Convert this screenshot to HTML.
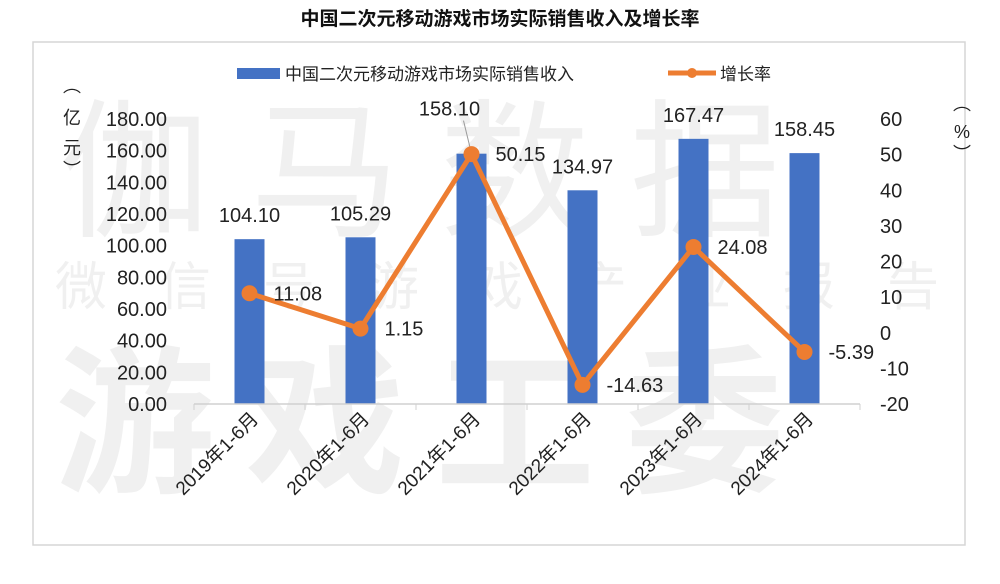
<!DOCTYPE html>
<html><head><meta charset="utf-8"><style>
body{margin:0;background:#fff;}
svg text{font-family:"Liberation Sans","Noto Sans CJK SC",sans-serif;}
</style></head><body>
<svg id="c" width="1000" height="579" viewBox="0 0 1000 579" xmlns="http://www.w3.org/2000/svg">
<rect x="0" y="0" width="1000" height="579" fill="#fff"/>
<text x="500" y="25" text-anchor="middle" font-size="19" font-weight="bold" fill="#111">中国二次元移动游戏市场实际销售收入及增长率</text>
<rect x="33" y="42" width="932" height="503" fill="none" stroke="#d6d6d6" stroke-width="1.5"/>
<g fill="#000" opacity="0.055">
<text x="60" y="225" font-size="150" letter-spacing="40">伽马数据</text>
<text x="55" y="305" font-size="52" letter-spacing="52">微信号游戏产业报告</text>
<text x="55" y="480" font-size="160" font-weight="bold" letter-spacing="30">游戏工委</text>
</g>
<g>
<rect x="237" y="68" width="43" height="11" fill="#4472C4"/>
<text x="285" y="80" font-size="17" fill="#222">中国二次元移动游戏市场实际销售收入</text>
<line x1="668" y1="73" x2="716" y2="73" stroke="#ED7D31" stroke-width="5"/>
<circle cx="692" cy="73" r="5" fill="#ED7D31"/>
<text x="720" y="80" font-size="17" fill="#222">增长率</text>
</g>
<g font-size="18" fill="#222" text-anchor="middle">
<text x="72" y="92">︵</text><text x="72" y="124">亿</text><text x="72" y="154">元</text><text x="72" y="176">︶</text>
</g>
<g font-size="18" fill="#222" text-anchor="middle">
<text x="962" y="110">︵</text><text x="962" y="138">%</text><text x="962" y="160">︶</text>
</g>
<g id="g"></g>
</svg>
<script>
const categories=["2019年1-6月","2020年1-6月","2021年1-6月","2022年1-6月","2023年1-6月","2024年1-6月"];
const revenue=[104.10,105.29,158.10,134.97,167.47,158.45];
const growth=[11.08,1.15,50.15,-14.63,24.08,-5.39];
const leftTicks=[0,20,40,60,80,100,120,140,160,180];
const rightTicks=[-20,-10,0,10,20,30,40,50,60];
const NS="http://www.w3.org/2000/svg";
const g=document.getElementById('g');
const X0=194,SLOT=111,YB=404,YT=119;
function xc(i){return X0+SLOT*(i+0.5);}
function yL(v){return YB-(v-0)/(180-0)*(YB-YT);}
function yR(v){return YB-(v+20)/(60+20)*(YB-YT);}
function mk(tag,attrs,txt){const e=document.createElementNS(NS,tag);for(const k in attrs)e.setAttribute(k,attrs[k]);if(txt!=null)e.textContent=txt;g.appendChild(e);return e;}
leftTicks.forEach(v=>{const t=mk('text',{x:167,y:yL(v)+7,'text-anchor':'end','font-size':20,fill:'#222'},v.toFixed(2));

});
rightTicks.forEach(v=>{const t=mk('text',{x:880,y:yR(v)+7,'font-size':20,fill:'#222'},String(v));

});
revenue.forEach((v,i)=>{const r=mk('rect',{x:xc(i)-15,y:yL(v),width:30,height:YB-yL(v),fill:'#4472C4'});


const t=mk('text',{x:xc(i)-(i==2?22:0),y:yL(v)-(i==2?38:17),'text-anchor':'middle','font-size':20,fill:'#222'},v.toFixed(2));


if(i==2){const l=mk('line',{x1:xc(i)-8,y1:yL(v)-33,x2:xc(i),y2:yL(v),stroke:'#999','stroke-width':1});

}});
const ax=mk('line',{x1:X0,y1:YB,x2:X0+SLOT*6,y2:YB,stroke:'#d0d0d0','stroke-width':1.5});


for(let i=0;i<=6;i++){const tk=mk('line',{x1:X0+SLOT*i,y1:YB,x2:X0+SLOT*i,y2:YB+6,stroke:'#d0d0d0'});

}
categories.forEach((c,i)=>{const x=xc(i)+10,y=YB+16;const t=mk('text',{x:x,y:y,'text-anchor':'end','font-size':19,fill:'#222',transform:`rotate(-45 ${x} ${y})`},c);

});
const pl=mk('polyline',{points:growth.map((v,i)=>xc(i)+','+yR(v)).join(' '),fill:'none',stroke:'#ED7D31','stroke-width':5,'stroke-linejoin':'round'});


growth.forEach((v,i)=>{const c=mk('circle',{cx:xc(i),cy:yR(v),r:8,fill:'#ED7D31'});


const t=mk('text',{x:xc(i)+24,y:yR(v)+7,'font-size':20,fill:'#222'},v.toFixed(2));

});
</script>
</body></html>
